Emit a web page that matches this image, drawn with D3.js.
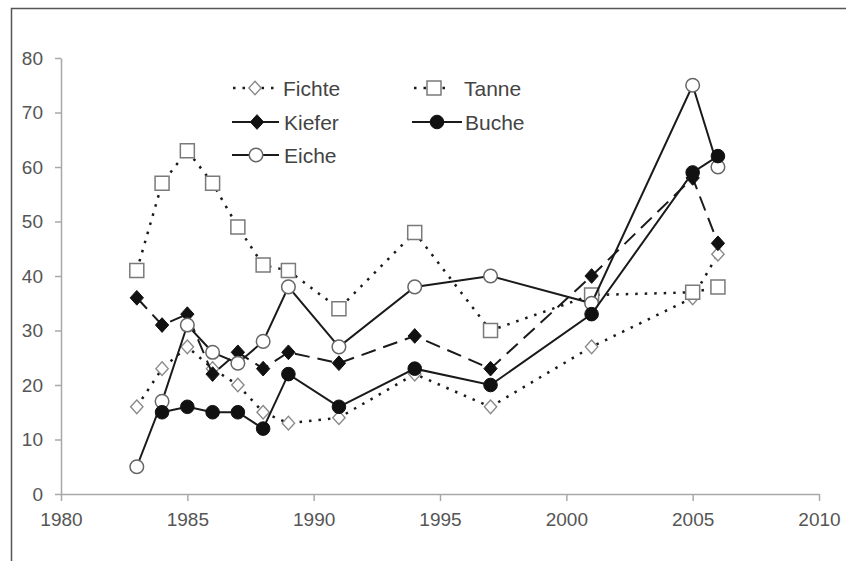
<!DOCTYPE html>
<html>
<head>
<meta charset="utf-8">
<script src="https://cdn.jsdelivr.net/npm/d3@7"></script>
<style>
  html, body { margin: 0; padding: 0; background: #fff; }
  svg { display: block; font-family: "Liberation Sans", Arial, sans-serif; }
</style>
</head>
<body>
<script>
// data
const years   = [1983, 1984, 1985, 1986, 1987, 1988, 1989, 1991, 1994, 1997, 2001, 2005, 2006];
const fichte  = [16, 23, 27, 23, 20, 15, 13, 14, 22, 16, 27, 36, 44];
const tanne   = [41, 57, 63, 57, 49, 42, 41, 34, 48, 30, 36.5, 37, 38];
const kiefer  = [36, 31, 33, 22, 26, 23, 26, 24, 29, 23, 40, 58, 46];
const eiche   = [5, 17, 31, 26, 24, 28, 38, 27, 38, 40, 35, 75, 60];
const buche   = [null, 15, 16, 15, 15, 12, 22, 16, 23, 20, 33, 59, 62];
const xTicks  = [1980, 1985, 1990, 1995, 2000, 2005, 2010];
const yTicks  = [0, 10, 20, 30, 40, 50, 60, 70, 80];

const w = 846, h = 561;

const svg = d3.select("body").append("svg")
              .attr("width", w)
              .attr("height", h);

// frame
svg.append("path")
   .attr("d", "M11.5,561 V8.5 H846")
   .attr("fill", "none")
   .attr("stroke", "#555")
   .attr("stroke-width", 1.5);

const xScale = d3.scaleLinear().domain([1980, 2010]).range([61, 819]);
const yScale = d3.scaleLinear().domain([0, 80]).range([494, 58]);

const xAxis = d3.axisBottom(xScale).tickValues(xTicks).tickFormat(d => d.toString())
                .tickSize(7).tickSizeOuter(0).tickPadding(12);
const yAxis = d3.axisLeft(yScale).tickValues(yTicks)
                .tickSize(6).tickSizeOuter(0).tickPadding(12);

const gx = svg.append("g").attr("transform", "translate(0," + yScale(0) + ")").call(xAxis);
const gy = svg.append("g").attr("transform", "translate(" + xScale(1980) + ",0)").call(yAxis);

[gx, gy].forEach(g => {
  g.select(".domain").attr("stroke", "#a8a8a8").attr("stroke-width", 1.5);
  g.selectAll(".tick line").attr("stroke", "#a8a8a8").attr("stroke-width", 1.5);
  g.selectAll(".tick text").attr("fill", "#555").style("font-size", "19px")
   .style("font-family", "'Liberation Sans', Arial, sans-serif");
});

// marker shapes, size = half width
const diamond = {
  draw(ctx, r) {
    ctx.moveTo(0, -r * 1.05);
    ctx.lineTo(r * 0.95, 0);
    ctx.lineTo(0, r * 1.05);
    ctx.lineTo(-r * 0.95, 0);
    ctx.closePath();
  }
};
const square = {
  draw(ctx, r) { ctx.rect(-r, -r, 2 * r, 2 * r); }
};
const circle = {
  draw(ctx, r) { ctx.moveTo(r, 0); ctx.arc(0, 0, r, 0, 2 * Math.PI); }
};

const series = [
  { name: "Fichte", values: fichte, dash: "2.5,7", lw: 2.5, shape: diamond, r: 6.5, fill: "#fff",  stroke: "#8a8a8a", sw: 1.4 },
  { name: "Tanne",  values: tanne,  dash: "2.5,7", lw: 2.5, shape: square,  r: 7,   fill: "#fff",  stroke: "#7a7a7a", sw: 1.5 },
  { name: "Kiefer", values: kiefer, dash: "15,8",  lw: 2,   shape: diamond, r: 7,   fill: "#111",  stroke: "#111",    sw: 1 },
  { name: "Eiche",  values: eiche,  dash: null,    lw: 2,   shape: circle,  r: 6.8, fill: "#fff",  stroke: "#666",    sw: 1.5 },
  { name: "Buche",  values: buche,  dash: null,    lw: 2,   shape: circle,  r: 6.8, fill: "#111",  stroke: "#111",    sw: 1 }
];

const line = d3.line()
               .defined(d => d[1] != null)
               .x(d => xScale(d[0]))
               .y(d => yScale(d[1]));

series.forEach(s => {
  const pts = years.map((yr, i) => [yr, s.values[i]]);
  svg.append("path")
     .datum(pts)
     .attr("d", line)
     .attr("fill", "none")
     .attr("stroke", "#1a1a1a")
     .attr("stroke-width", s.lw)
     .attr("stroke-dasharray", s.dash);
  svg.append("g").selectAll("path")
     .data(pts.filter(d => d[1] != null))
     .enter()
     .append("path")
     .attr("transform", d => "translate(" + xScale(d[0]) + "," + yScale(d[1]) + ")")
     .attr("d", d3.symbol().type(s.shape).size(s.r))
     .attr("fill", s.fill)
     .attr("stroke", s.stroke)
     .attr("stroke-width", s.sw);
});

// legend
const legendPos = {
  Fichte: { x1: 233, x2: 276, mx: 255, tx: 283, y: 88 },
  Tanne:  { x1: 414, x2: 452, mx: 434, tx: 464, y: 88 },
  Kiefer: { x1: 232, x2: 279, mx: 257, tx: 284, y: 122 },
  Buche:  { x1: 412, x2: 462, mx: 437, tx: 465, y: 122 },
  Eiche:  { x1: 232, x2: 279, mx: 256, tx: 284, y: 155 }
};

const legend = svg.append("g");
series.forEach(s => {
  const p = legendPos[s.name];
  legend.append("line")
        .attr("x1", p.x1).attr("x2", p.x2)
        .attr("y1", p.y).attr("y2", p.y)
        .attr("stroke", "#1a1a1a")
        .attr("stroke-width", s.lw)
        .attr("stroke-dasharray", s.name === "Kiefer" ? null : s.dash);
  legend.append("path")
        .attr("transform", "translate(" + p.mx + "," + p.y + ")")
        .attr("d", d3.symbol().type(s.shape).size(s.r))
        .attr("fill", s.fill)
        .attr("stroke", s.stroke)
        .attr("stroke-width", s.sw);
  legend.append("text")
        .attr("x", p.tx)
        .attr("y", p.y)
        .attr("dy", "0.36em")
        .attr("fill", "#444")
        .style("font-size", "21px")
        .text(s.name);
});
</script>
</body>
</html>
